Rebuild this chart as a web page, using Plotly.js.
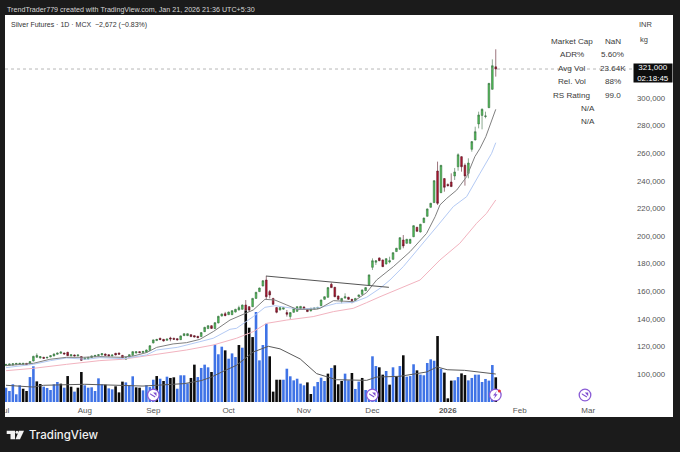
<!DOCTYPE html>
<html><head><meta charset="utf-8">
<script src="https://cdn.plot.ly/plotly-3.0.1.min.js"></script>
<style>html,body{margin:0;padding:0;background:#1b1b1b;overflow:hidden}
#edge{position:fixed;left:0;top:0;width:5px;height:452px;background:#1b1b1b;z-index:5}</style>
</head><body><div id="chart" style="width:680px;height:452px"></div><div id="edge"></div>
<script>
const opens=[106100,106300,106500,106800,107000,107000,107700,107300,109400,112100,111600,112100,111600,112400,113100,114300,115000,115200,115700,113100,113800,113100,112600,110600,110900,111900,112600,113300,113800,114500,114000,113100,115000,115200,113500,110700,112100,113500,115200,116200,115500,115700,116900,122500,124200,125900,125100,124400,126100,125900,125600,124900,127800,127800,128500,127800,127300,127100,130700,132900,135000,132900,137000,142000,143700,143000,143000,144900,146400,146900,150000,148800,148800,154800,159700,163800,168100,159700,154800,148100,146400,147000,144500,141600,144700,145400,147400,148600,146600,145700,147100,147400,149500,154100,155600,165000,162800,156500,152700,155000,155600,154100,153200,156100,157700,160400,164300,177300,181000,184100,182600,179700,181200,183100,188700,190400,197100,194700,194700,199500,206300,202900,209700,214300,220800,224200,247100,231400,241600,237400,239100,243500,250200,257500,251200,245400,262800,269600,281200,287400,286600,293000,306300,322600];
const highs=[107300,107600,107800,108000,108000,108000,108000,109400,113200,115000,112900,112400,112400,113600,114900,115500,116400,115500,116100,114300,114100,114100,112900,111900,112400,113400,113800,114300,115100,114800,114300,114100,115300,115500,113800,112400,114300,116500,116500,116500,116700,117700,120900,125000,125400,126200,125400,125700,127000,126200,125900,127900,129500,129500,128800,128100,127600,130300,134200,135300,135300,137500,142200,143800,145000,145200,146200,147200,149500,150300,153600,149100,155100,159500,162600,168000,171000,160900,155100,148400,148400,148400,146400,144800,147900,149100,149300,148900,146900,147900,148100,148600,153900,156300,162900,166200,163100,156800,155100,158500,155900,154400,155100,157600,161200,162900,172100,183800,182600,184400,182900,183900,185000,188200,191400,199100,200700,197900,197900,207800,206600,208800,213300,219900,224000,240400,253900,251500,241900,238000,245400,249300,259900,257800,252600,256300,268700,279200,290100,292500,290100,310900,328000,335300];
const lows=[105800,106000,106200,106500,106700,106700,106500,107000,109100,111800,111300,111100,111300,112100,112800,114000,114700,114200,113000,112800,112800,112800,109500,110300,110600,111600,112300,113000,113500,113200,112800,112800,113500,114000,111300,110200,111800,113200,114900,115200,115200,115400,116600,122200,123900,124600,123600,124100,123700,124800,124400,124600,127500,127500,126800,126500,126000,126800,130400,132600,132700,132600,136700,141700,141900,142700,142700,144600,146100,146600,146100,145000,148500,154500,159400,163500,153600,154800,150000,144000,146100,146700,141600,139600,144400,145100,147100,147100,144900,145400,146800,147100,149200,153800,155300,162300,155700,153800,151200,154700,153800,151200,152900,155800,157400,160100,164000,175400,179000,181800,177500,179400,180200,182800,188400,190100,191100,194400,194400,199200,203100,202600,209400,214000,220500,223900,222500,231100,232100,235800,235500,240600,247300,246600,236500,241800,261100,269300,278000,277300,285300,292700,306000,315500];
const closes=[107000,107300,107500,107700,107700,107700,106800,109000,112800,113500,112600,111400,112100,113300,114500,115200,116000,114500,113300,114000,113100,113800,109900,111600,112100,113100,113500,114000,114800,113500,113100,113800,113800,114300,111600,112100,114000,116200,116200,115500,116400,117400,120500,124700,125100,124900,123900,125400,125400,125100,124700,127600,129200,129200,127100,126800,126300,130000,133800,135000,133000,137200,141800,143500,142300,144900,145900,146900,148100,150000,146400,146400,154800,159200,162300,167600,156000,157300,150500,144700,148100,148100,143300,144500,147600,148800,149000,147400,145200,147600,147800,148300,153600,156000,162600,162600,156000,154100,154800,156000,154100,153200,154800,157300,160900,162600,171800,182100,182000,182100,177800,183600,182100,187900,191100,198800,192800,197600,197600,207500,203400,208500,213000,219600,223700,240100,223700,251200,235300,236500,235800,246400,258900,250200,243500,252900,268400,275600,287700,291800,287000,310600,323400,321000];
const volumeK=[11.3,8.7,14,6.1,13.2,10.5,8.7,19.7,28.2,16.3,14.2,12.1,11.1,9.5,14,15.8,14.5,11.3,20.5,12.1,8.2,11.3,23.7,13.2,11.3,11.6,8.7,18.7,14,13.7,10.8,10,12.4,7.6,16.1,15.5,13.2,20.3,11.6,11.3,9.2,13.2,11.8,17.6,20.5,18.4,16.6,20,19,19.5,10.5,21.1,21.1,14.7,19,29.5,19.7,26.9,29.5,27.4,23.7,45.3,37.7,43.7,40.8,34.2,38.4,35.5,45,42.9,72.4,58.7,51.3,71.1,32.9,45,61.9,36.1,8.2,17.6,17.6,17.6,26.3,20.3,17.1,18.4,14.5,13.2,15.5,6.3,12.4,15.8,19.2,16.6,22.4,26.9,29,14,16.6,22.4,17.1,22.9,10.3,16.1,19,9.5,6.5,36.1,28.4,27.4,21.6,24.5,13.7,27.4,20.5,28.4,36.9,20,20.5,29.8,25,21.6,21.1,30.8,33.7,32.6,52.1,26.3,23.2,2.9,16.9,17.1,19.7,22.6,21.3,17.1,19,21.6,21.6,15.8,18.2,16.9,29.2,19.5];
const volumeKinds="bbbbbkkbbkkbbbbbkbkkbkkbbbbbbkbbkkkbbbkkbbbbkbkbkkbbbbkkbbbbkbbbkbbbkbkkkbbbbkkkkbbbbbbbkkbbbbkbkkkbbkbbkbbbbkkbkbkbkbbbkbbbbbkbkkkbbkkbbbbbbbbk".split("");
const avgVolBars=[0,8,11,23,40,47,52,57,60,63,65,67.3,72.2,76.6,80,85.9,90.7,93.6,96.5,105.3,108.2,115,118,122.8,125.9,128.8,133.9,142.2,143];
const avgVolK=[13.2,11.8,13.2,14,12.6,14,14.5,16.9,19.7,23.7,26.3,29,39.5,44,42,34,22.4,19.7,17.6,17.1,19.7,20.3,21.6,23.7,27.7,25.5,25,22.4,22.1];
const ma10Bars=[0,8,12.8,17.7,22.6,27.4,33.3,37.2,41,44,48.8,52.7,56.6,60.5,65.4,67.3,72.2,75.6,78.5,82,84.9,90.7,91.7,95.6,101.4,105.3,108.2,113.1,118,122.8,125.3,126.7,128.7,131.6,134.5,136.9,138.4,140.1,143];
const ma10=[106050,107750,110650,112100,112100,112600,112100,113060,115500,119300,121800,122700,125100,130700,139100,141100,146400,154100,153600,150000,146900,146900,147600,153150,152400,159000,168100,177800,188700,201900,214000,222500,227300,233300,243000,257500,263500,272000,291800];
const ma21Bars=[0,8,13,17.7,23.5,27.4,34.3,41,44,50,56.6,60.5,65.4,67.3,72.2,75.6,78.5,82,85.8,91.7,96.5,101.4,105.3,109.2,112.1,116,121.8,126.2,130.6,134.5,138.4,141.8,143];
const ma21=[104600,107000,109700,111600,110650,111850,111100,113800,117400,119300,123400,125900,132400,133100,141600,148300,149500,148100,146900,148100,151200,151900,155600,162100,168100,177800,194700,208000,221300,228500,245400,259900,267600];
const ma50Bars=[0,8,17.7,27.4,34,44,52.7,60.5,65.4,67.3,72.2,76.1,82,89.7,95.6,101.4,105.3,109.2,120.9,126.7,132.5,137.4,140.3,143];
const ma50=[102400,104100,107000,109700,110650,114500,117400,121000,124650,125900,130700,136700,139100,141600,145200,147600,151700,156000,168100,182600,194700,209200,216400,226100];
const trendBars=[75.9,111.8];
const trendPrices=[171000,162800];
const lastPrice=321000;
const monthBars=[23,43,65,87,107,129,150,170];
const monthLabels=["Aug","Sep","Oct","Nov","Dec","<b>2026</b>","Feb","Mar"];
const priceTicks=[100000,120000,140000,160000,180000,200000,220000,240000,260000,280000,300000];
const statRows=[["Market Cap","NaN"],["ADR%","5.60%"],["Avg Vol","23.64K"],["Rel. Vol","88%"],["RS Rating","99.0"]];
const naRows=["N/A","N/A"];

const W=680,H=452,PL=0,PR=633,PT=15,PB=402;
const fx=x=>(x-PL)/(PR-PL), fy=y=>(PB-y)/(PB-PT);
const F='"Liberation Sans",sans-serif';
const xs=opens.map((_,i)=>i);
const xRange=[-1.752,183.07];
const traces=[
 {type:'bar',x:xs,y:volumeK,marker:{color:volumeKinds.map(k=>k==='k'?'#0c0c0c':'#3f73e6'),line:{width:0}},width:0.76,xaxis:'x',yaxis:'y',hoverinfo:'skip'},
 {type:'scatter',mode:'lines',x:avgVolBars,y:avgVolK,line:{color:'#5a5a5a',width:1},xaxis:'x',yaxis:'y',hoverinfo:'skip'},
 {type:'scatter',mode:'lines',x:ma50Bars,y:ma50,line:{color:'#f2b3bf',width:1},xaxis:'x',yaxis:'y2',hoverinfo:'skip'},
 {type:'scatter',mode:'lines',x:ma21Bars,y:ma21,line:{color:'#b4caf4',width:1},xaxis:'x',yaxis:'y2',hoverinfo:'skip'},
 {type:'scatter',mode:'lines',x:ma10Bars,y:ma10,line:{color:'#808080',width:1},xaxis:'x',yaxis:'y2',hoverinfo:'skip'},
 {type:'scatter',mode:'lines',x:trendBars,y:trendPrices,line:{color:'#555',width:1},xaxis:'x',yaxis:'y2',hoverinfo:'skip'},
 {type:'candlestick',x:xs,open:opens,high:highs,low:lows,close:closes,xaxis:'x',yaxis:'y2',whiskerwidth:0,width:0.74,
  increasing:{line:{color:'#3c6e44',width:0.6},fillcolor:'#4cc253'},
  decreasing:{line:{color:'#5a1a26',width:0.6},fillcolor:'#b3152f'},hoverinfo:'skip'}
];
const ann=[];
function text(x,y,t,o={}){ann.push(Object.assign({xref:'paper',yref:'paper',x:fx(x),y:fy(y),text:t,showarrow:false,xanchor:'center',yanchor:'middle',
  font:{family:F,size:8.1,color:'#3a3a3a'},borderpad:0},o));}
text(6,10,'TrendTrader779 created with TradingView.com, Jan 21, 2026 21:36 UTC+5:30',{xanchor:'left',font:{family:F,size:7.15,color:'#d6d6d6'}});
text(10,25,'Silver Futures · 1D · MCX  −2,672 (−0.83%)',{xanchor:'left',font:{family:F,size:7,color:'#333'}});
statRows.forEach((r,k)=>{const y=41+k*13.6;text(571.5,y,r[0]);text(612.5,y,r[1]);});
naRows.forEach((t,k)=>text(588,108+k*13.2,t));
text(646,24,'INR',{font:{family:F,size:7.5,color:'#444'}});
text(644,39,'kg',{font:{family:F,size:7.5,color:'#444'}});
text(653,73,'321,000<br>02:18:45',{font:{family:F,size:8,color:'#fff'},bgcolor:'#0d0d0d',width:38,height:18,align:'center'});
text(28,435,'TradingView',{xanchor:'left',font:{family:'Inter,sans-serif',size:11.5,color:'#f2f2f2',weight:500}});
text(4.3,410,'Jul',{font:{family:F,size:8,color:'#555'}});

const shapes=[
 {type:'rect',layer:'below',xref:'paper',yref:'paper',x0:fx(5),x1:fx(673),y0:fy(417),y1:fy(15),fillcolor:'#fff',line:{width:0}},
 {type:'line',layer:'above',xref:'paper',yref:'y2',x0:fx(5),x1:fx(634),y0:lastPrice,y1:lastPrice,line:{color:'#9a9a9a',width:0.7,dash:'dot'}}
];
function pathPx(pts){return 'M'+pts.map(p=>fx(p[0])+','+fy(p[1])).join('L')+'Z';}
function paperPath(pts,fill){shapes.push({type:'path',xref:'paper',yref:'paper',path:pathPx(pts),fillcolor:fill,line:{width:0}});}
function circle(cx,cy,r,fill,lc,lw){shapes.push({type:'circle',xref:'paper',yref:'paper',x0:fx(cx-r),x1:fx(cx+r),y0:fy(cy+r),y1:fy(cy-r),fillcolor:fill,line:{color:lc,width:lw}});}
// TradingView mark
paperPath([[6.7,430.7],[15,430.7],[15,439.3],[10.5,439.3],[10.5,434],[6.7,434]],'#f2f2f2');
paperPath([[19,430.7],[24,430.7],[20,439.3],[15.5,439.3]],'#f2f2f2');
circle(17,432.2,1.5,'#f2f2f2','#f2f2f2',0);
// event markers
[[153.3,395],[372.3,395],[585,395]].forEach(c=>{
 circle(c[0],c[1],5.8,'#fff','#8a5cd6',1.3);
 paperPath([[c[0]-3.2,c[1]-1.8],[c[0]+2.2,c[1]+1.6],[c[0]+1.6,c[1]+2.4],[c[0]-3.2,c[1]-0.6]],'#7e4fd0');
 paperPath([[c[0]+3.2,c[1]-2.4],[c[0]+3.2,c[1]+1.2],[c[0]-0.2,c[1]-2.4]],'#7e4fd0');
});
circle(495.3,395,5.8,'#fff','#8a5cd6',1.3);
paperPath([[496.8,391],[493,395.6],[495.2,395.6],[493.8,399],[497.6,394.2],[495.4,394.2]],'#7e4fd0');
circle(499.4,391,1.5,'#e5323e','#e5323e',0);

Plotly.newPlot('chart',traces,{
 width:W,height:H,showlegend:false,dragmode:false,
 paper_bgcolor:'#1b1b1b',plot_bgcolor:'rgba(0,0,0,0)',
 margin:{l:PL,r:W-PR,t:PT,b:H-PB,pad:0},
 xaxis:{range:xRange,type:'linear',tickmode:'array',tickvals:monthBars,ticktext:monthLabels,showgrid:false,zeroline:false,showline:false,ticks:'',
  tickangle:0,tickfont:{family:F,size:8,color:'#555'},rangeslider:{visible:false},automargin:false,ticklabelstandoff:2},
 yaxis:{range:[0,305.7],visible:false,fixedrange:true},
 yaxis2:{range:[79710,360145],overlaying:'y',side:'right',tickmode:'array',tickvals:priceTicks,ticktext:priceTicks.map(v=>v.toLocaleString('en-US')),showgrid:false,zeroline:false,showline:false,ticks:'',
  tickfont:{family:F,size:7.8,color:'#555'},automargin:false,ticklabelstandoff:3},
 shapes:shapes,annotations:ann
},{staticPlot:true,displayModeBar:false});
</script></body></html>
